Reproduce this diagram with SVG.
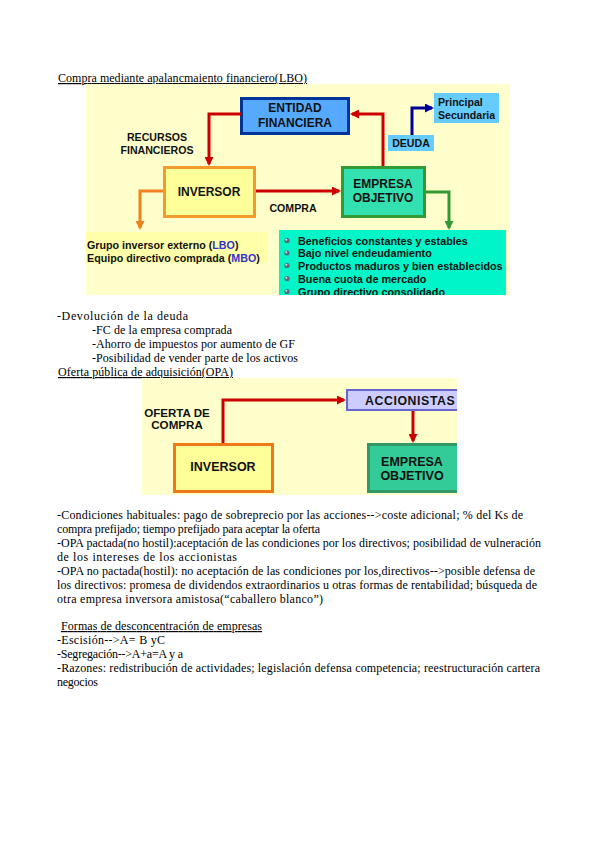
<svg xmlns="http://www.w3.org/2000/svg" width="599" height="848" viewBox="0 0 599 848">
<style>
.body{font-family:"Liberation Serif","Times New Roman",serif;font-size:12px;fill:#000}
.ul{text-decoration:underline}
.b{font-family:"Liberation Sans",Arial,sans-serif;font-weight:bold;fill:#111}
.box{stroke-width:3}
.red{fill:none;stroke:#cc0000;stroke-width:3}
</style>
<defs>
<marker id="mr" markerWidth="9" markerHeight="9" refX="7" refY="4.5" orient="auto" markerUnits="userSpaceOnUse"><path d="M0,0 L9,4.5 L0,9 z" fill="#cc0000"/></marker>
<marker id="mb" markerWidth="9" markerHeight="9" refX="7" refY="4.5" orient="auto" markerUnits="userSpaceOnUse"><path d="M0,0 L9,4.5 L0,9 z" fill="#000099"/></marker>
<marker id="mo" markerWidth="9" markerHeight="9" refX="7" refY="4.5" orient="auto" markerUnits="userSpaceOnUse"><path d="M0,0 L9,4.5 L0,9 z" fill="#f08020"/></marker>
<marker id="mg" markerWidth="9" markerHeight="9" refX="7" refY="4.5" orient="auto" markerUnits="userSpaceOnUse"><path d="M0,0 L9,4.5 L0,9 z" fill="#339933"/></marker>
<clipPath id="c1"><rect x="86" y="84" width="424" height="211"/></clipPath>
<clipPath id="c2"><rect x="142" y="378" width="315" height="117"/></clipPath>
<g id="bullet"><circle r="2.6" fill="#5a6a7a"/><circle cx="-0.7" cy="-0.7" r="1" fill="#dde"/></g>
</defs>
<rect width="599" height="848" fill="#fff"/>

<text class="body ul" x="58" y="82" textLength="249">Compra mediante apalancmaiento financiero(LBO)</text>

<g id="lbo" clip-path="url(#c1)">
<rect x="86" y="84" width="424" height="212" fill="#ffffcc"/>
<g id="entidad"><rect class="box" x="241.5" y="98.5" width="107" height="35" fill="#55aaff" stroke="#003399"/>
<text class="b" font-size="12" text-anchor="middle" x="295" y="112">ENTIDAD</text>
<text class="b" font-size="12" text-anchor="middle" x="295" y="127">FINANCIERA</text></g>
<g id="principal"><rect x="434" y="93" width="65" height="30" fill="#66ccff"/>
<text class="b" font-size="10.6" x="438" y="106">Principal</text>
<text class="b" font-size="10.6" x="438" y="119">Secundaria</text></g>
<g id="deuda"><rect x="388" y="135" width="46" height="16" fill="#66ccff"/>
<text class="b" font-size="10.6" text-anchor="middle" x="411" y="147">DEUDA</text></g>
<g id="recursos"><text class="b" font-size="10.6" text-anchor="middle" x="157" y="141">RECURSOS</text>
<text class="b" font-size="10.6" text-anchor="middle" x="157" y="154">FINANCIEROS</text></g>
<g id="inversor"><rect class="box" x="164.5" y="167.5" width="90" height="49" fill="#ffff99" stroke="#f39a2e"/>
<text class="b" font-size="12" text-anchor="middle" x="209" y="196">INVERSOR</text></g>
<g id="empresa"><rect class="box" x="342.5" y="167.5" width="82" height="49" fill="#33e0b0" stroke="#339933"/>
<text class="b" font-size="12" text-anchor="middle" x="383" y="188">EMPRESA</text>
<text class="b" font-size="12" text-anchor="middle" x="383" y="202">OBJETIVO</text></g>
<g id="compra"><text class="b" font-size="10.6" text-anchor="middle" x="293" y="212">COMPRA</text></g>
<g id="grupo"><rect x="86" y="232" width="181" height="31" fill="#ffffaa"/>
<text class="b" font-size="10.7" x="87" y="249">Grupo inversor externo (<tspan fill="#3333cc">LBO</tspan>)</text>
<text class="b" font-size="10.7" x="87" y="262">Equipo directivo comprada (<tspan fill="#3333cc">MBO</tspan>)</text></g>
<g id="lista"><rect x="279" y="230" width="227" height="70" fill="#00f5c8"/>
<use href="#bullet" x="287" y="240.5"/><use href="#bullet" x="287" y="253"/><use href="#bullet" x="287" y="265.5"/><use href="#bullet" x="287" y="278.5"/><use href="#bullet" x="287" y="291.5"/>
<text class="b" font-size="10.8" x="298" y="244.5">Beneficios constantes y estables</text>
<text class="b" font-size="10.8" x="298" y="257">Bajo nivel endeudamiento</text>
<text class="b" font-size="10.8" x="298" y="269.5">Productos maduros y bien establecidos</text>
<text class="b" font-size="10.8" x="298" y="282.5">Buena cuota de mercado</text>
<text class="b" font-size="10.8" x="298" y="296">Grupo directivo consolidado</text></g>
<g id="conectores-lbo">
<path class="red" d="M241,114 H209 V164" marker-end="url(#mr)"/>
<path class="red" d="M383,166 V114 H352" marker-end="url(#mr)"/>
<path class="red" d="M256,191 H339" marker-end="url(#mr)"/>
<path d="M412,135 V108 H432" fill="none" stroke="#000099" stroke-width="3" marker-end="url(#mb)"/>
<path d="M163,191 H140 V228" fill="none" stroke="#f08020" stroke-width="3" marker-end="url(#mo)"/>
<path d="M426,192 H449 V228" fill="none" stroke="#339933" stroke-width="3" marker-end="url(#mg)"/>
</g>
</g>

<text class="body" x="57" y="320" textLength="131">-Devolución de la deuda</text>
<text class="body" x="92" y="334" textLength="140">-FC de la empresa comprada</text>
<text class="body" x="92" y="348" textLength="203">-Ahorro de impuestos por aumento de GF</text>
<text class="body" x="92" y="362" textLength="206">-Posibilidad de vender parte de los activos</text>
<text class="body ul" x="58" y="376" textLength="175">Oferta pública de adquisición(OPA)</text>

<g id="opa" clip-path="url(#c2)">
<rect x="142" y="378" width="315" height="117" fill="#ffffcc"/>
<g id="accionistas"><rect x="347" y="390" width="115" height="20" fill="#ccccff" stroke="#6666cc" stroke-width="2"/>
<text class="b" font-size="12.3" letter-spacing="0.6" x="365" y="405">ACCIONISTAS</text></g>
<g id="oferta"><text class="b" font-size="11.6" text-anchor="middle" x="177" y="417">OFERTA DE</text>
<text class="b" font-size="11.6" text-anchor="middle" x="177" y="429">COMPRA</text></g>
<g id="inversor2"><rect class="box" x="174.5" y="444.5" width="98" height="47" fill="#ffff99" stroke="#f07818"/>
<text class="b" font-size="12.5" text-anchor="middle" x="223" y="471">INVERSOR</text></g>
<g id="empresa2"><rect class="box" x="368.5" y="444.5" width="95" height="47" fill="#33cc99" stroke="#339966"/>
<text class="b" font-size="12.5" text-anchor="middle" x="412" y="466">EMPRESA</text>
<text class="b" font-size="12.5" text-anchor="middle" x="412" y="480">OBJETIVO</text></g>
<g id="conectores-opa">
<path class="red" d="M223,443 V400 H344" marker-end="url(#mr)"/>
<path class="red" d="M413,411 V441" marker-end="url(#mr)"/>
</g>
</g>

<text class="body" x="57" y="519" textLength="466">-Condiciones habituales: pago de sobreprecio por las acciones--&gt;coste adicional; % del Ks de</text>
<text class="body" x="57" y="533" textLength="263">compra prefijado; tiempo prefijado para aceptar la oferta</text>
<text class="body" x="57" y="547" textLength="484">-OPA pactada(no hostil):aceptación de las condiciones por los directivos; posibilidad de vulneración</text>
<text class="body" x="57" y="561" textLength="180">de los intereses de los accionistas</text>
<text class="body" x="57" y="575" textLength="478">-OPA no pactada(hostil): no aceptación de las condiciones por los,directivos--&gt;posible defensa de</text>
<text class="body" x="57" y="589" textLength="480">los directivos: promesa de dividendos extraordinarios u otras formas de rentabilidad; búsqueda de</text>
<text class="body" x="57" y="603" textLength="266">otra empresa inversora amistosa(“caballero blanco”)</text>

<text class="body ul" x="61" y="630" textLength="201">Formas de desconcentración de empresas</text>
<text class="body" x="57" y="644" textLength="108">-Escisión--&gt;A= B yC</text>
<text class="body" x="57" y="658" textLength="126">-Segregación--&gt;A+a=A y a</text>
<text class="body" x="57" y="672" textLength="483">-Razones: redistribución de actividades; legislación defensa competencia; reestructuración cartera</text>
<text class="body" x="57" y="686" textLength="41">negocios</text>
</svg>
